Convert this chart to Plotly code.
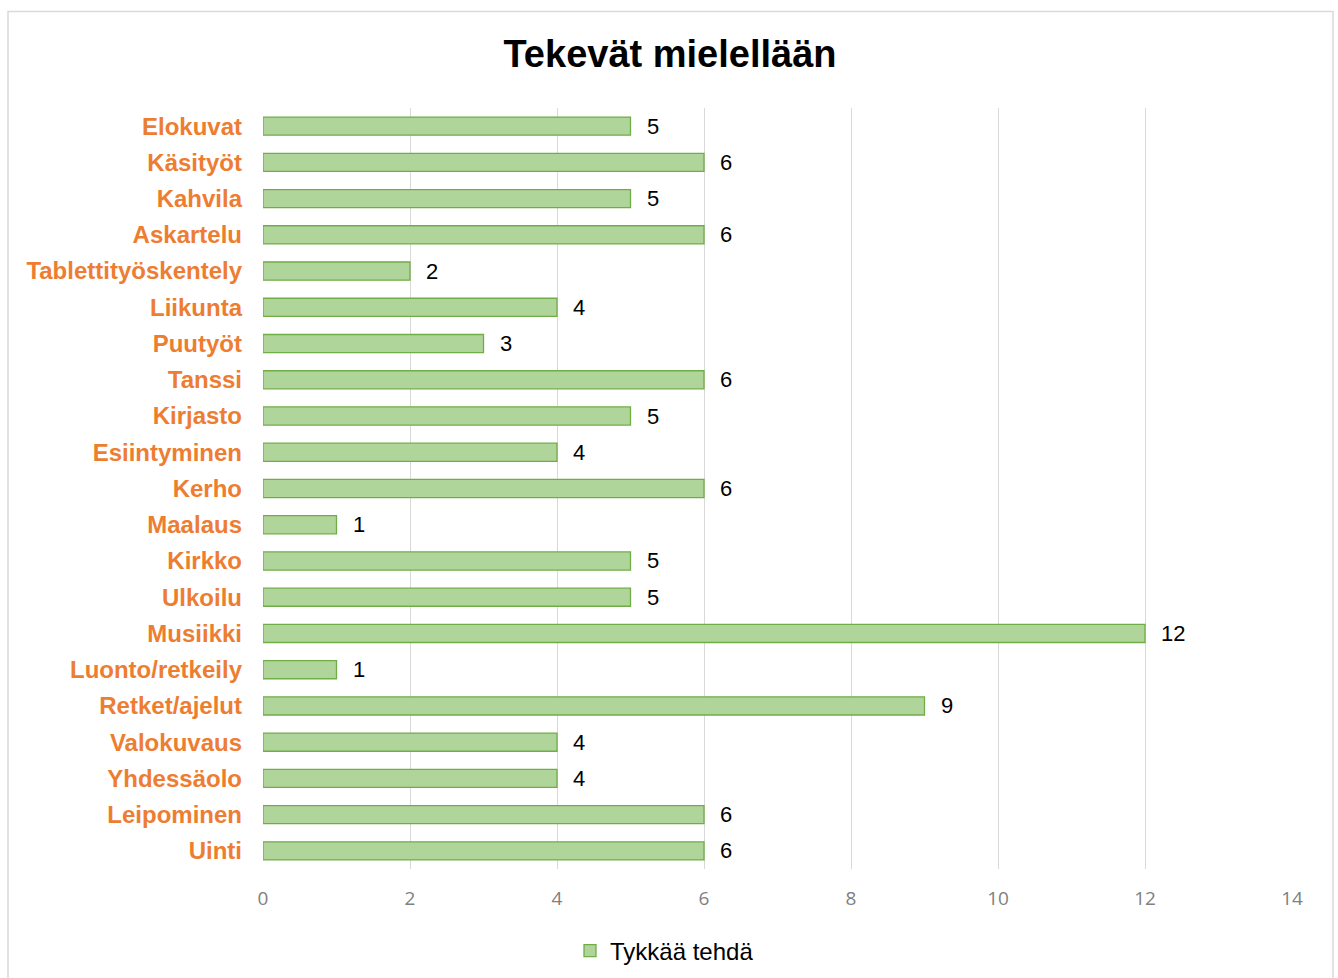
import plotly.graph_objects as go

categories = ["Elokuvat", "Käsityöt", "Kahvila", "Askartelu", "Tablettityöskentely", "Liikunta",
              "Puutyöt", "Tanssi", "Kirjasto", "Esiintyminen", "Kerho", "Maalaus", "Kirkko",
              "Ulkoilu", "Musiikki", "Luonto/retkeily", "Retket/ajelut", "Valokuvaus",
              "Yhdessäolo", "Leipominen", "Uinti"]
values = [5, 6, 5, 6, 2, 4, 3, 6, 5, 4, 6, 1, 5, 5, 12, 1, 9, 4, 4, 6, 6]
series_name = "Tykkää tehdä"
title_text = "Tekevät mielellään"
x_ticks = [0, 2, 4, 6, 8, 10, 12, 14]

W, H = 1338, 978
L, R, T, B = 263, 1292, 108, 869

fig = go.Figure()
fig.add_trace(go.Bar(
    x=values, y=categories, orientation="h", name=series_name,
    marker=dict(color="#b0d59b", line=dict(color="#70ad47", width=1.3)),
    width=0.5, showlegend=True,
))

for c, v in zip(categories, values):
    fig.add_annotation(x=v, y=c, text=str(v), showarrow=False, xanchor="left",
                       xshift=14, font=dict(family="Liberation Sans, Arial", size=22, color="#000000"))

pw, ph = R - L, B - T
def px(xp):
    return (xp - L) / pw
def py(yp):
    return (B - yp) / ph

fig.add_shape(type="rect", xref="paper", yref="paper",
              x0=px(8), x1=px(1333), y0=py(1010), y1=py(11.5),
              line=dict(color="#d9d9d9", width=1.5), fillcolor="rgba(0,0,0,0)", layer="below")

fig.update_layout(
    width=W, height=H,
    margin=dict(l=L, r=W - R, t=T, b=H - B, pad=0),
    paper_bgcolor="white", plot_bgcolor="white",
    title=dict(text="<b>" + title_text + "</b>", x=670 / W, xref="container", xanchor="center",
               y=1 - 54 / H, yref="container", yanchor="middle",
               font=dict(family="Liberation Sans, Arial", size=38, color="#000000")),
    xaxis=dict(range=[0, 14], tickvals=x_ticks, showgrid=True, gridcolor="#d9d9d9", gridwidth=1,
               zeroline=False, showline=False, ticks="",
               tickfont=dict(family="Open Sans, Calibri", size=19, color="#808080"),
               ticklabelstandoff=16),
    yaxis=dict(autorange="reversed", showgrid=False, zeroline=False, showline=False, ticks="",
               tickfont=dict(family="Liberation Sans, Arial", size=24, color="#ed7d31", weight="bold"),
               ticklabelstandoff=20),
    bargap=0.5,
    legend=dict(orientation="h", x=(612 - 42) / W, xref="container", xanchor="left",
                y=1 - 951 / H, yref="container", yanchor="middle",
                font=dict(family="Liberation Sans, Arial", size=24, color="#000000")),
)

fig.write_html("out.html", config={"displayModeBar": False},
               post_script="document.body.style.margin='0';document.body.style.overflow='hidden';")
